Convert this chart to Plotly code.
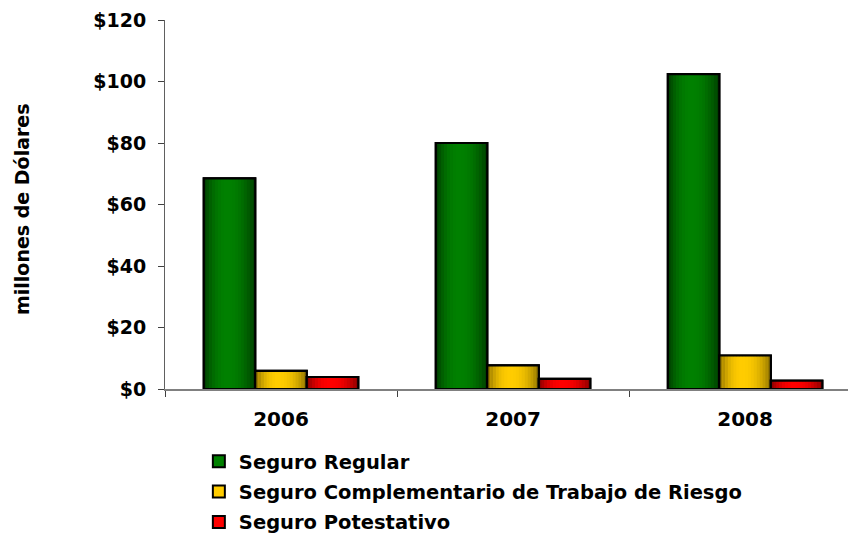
import plotly.graph_objects as go

years = ["2006", "2007", "2008"]
series_names = ["Seguro Regular", "Seguro Complementario de Trabajo de Riesgo", "Seguro Potestativo"]
seguro_regular = [68.5, 80.0, 102.4]
seguro_complementario = [5.9, 7.7, 10.9]
seguro_potestativo = [3.9, 3.3, 2.7]
y_ticks = [0, 20, 40, 60, 80, 100, 120]
y_tick_labels = ["$0", "$20", "$40", "$60", "$80", "$100", "$120"]

all_values = [seguro_regular, seguro_complementario, seguro_potestativo]
# (dark edge colour, bright centre colour)
palettes = [((0, 56, 0), (0, 128, 0)),
            ((140, 112, 0), (255, 204, 0)),
            ((128, 0, 0), (255, 0, 0))]
mid_colors = ["#008000", "#FFCC00", "#FF0000"]

BAR_W = 0.222
offsets = [-1.5 * BAR_W, -0.5 * BAR_W, 0.5 * BAR_W]
N_STRIPES = 18

FONT = "Tahoma, Verdana, DejaVu Sans, sans-serif"
PLOT_H = 369

fig = go.Figure()
for i, (name, vals) in enumerate(zip(series_names, all_values)):
    dark, bright = palettes[i]
    fig.add_trace(go.Bar(
        x=years, y=vals, name=name, width=BAR_W, offset=offsets[i],
        marker=dict(color=mid_colors[i], line=dict(color="black", width=2)),
        legendgroup=name, showlegend=True, hoverinfo="skip"))
    sw = BAR_W / N_STRIPES
    for k in range(N_STRIPES):
        t = (k + 0.5) / N_STRIPES
        c = 0.45
        d = abs(t - c) / (c if t < c else 1 - c)
        f = max(0.0, 1 - d ** 2.2)
        col = tuple(int(round(dark[j] + (bright[j] - dark[j]) * f)) for j in range(3))
        fig.add_trace(go.Bar(
            x=years, y=vals, width=sw * 1.08, offset=offsets[i] + k * sw,
            marker=dict(color="rgb(%d,%d,%d)" % col, line=dict(width=0)),
            legendgroup=name, showlegend=False, hoverinfo="skip"))
    fig.add_trace(go.Bar(
        x=years, y=vals, width=BAR_W, offset=offsets[i],
        marker=dict(color="rgba(0,0,0,0)", line=dict(color="black", width=2.2)),
        legendgroup=name, showlegend=False, hoverinfo="skip"))

fig.update_layout(
    width=848, height=529,
    barmode="overlay",
    paper_bgcolor="white", plot_bgcolor="white",
    margin=dict(l=157, r=0, t=12, b=148, autoexpand=False),
    font=dict(family=FONT, size=19, color="black", weight="bold"),
    xaxis=dict(
        type="category", range=[-0.5, 2.478],
        showline=True, linecolor="#808080", linewidth=2,
        ticks="outside", tickson="boundaries", ticklen=6, tickcolor="#404040",
        ticklabelstandoff=11,
        tickfont=dict(family=FONT, size=20, weight="bold"),
        showgrid=False, zeroline=False),
    yaxis=dict(
        range=[0, 120], tickvals=y_ticks, ticktext=y_tick_labels,
        showline=True, linecolor="#606060", linewidth=1,
        ticks="outside", ticklen=6, tickcolor="#404040",
        ticklabelstandoff=8, ticklabeloverflow="allow",
        tickfont=dict(family=FONT, size=19, weight="bold"),
        showgrid=False, zeroline=False),
    legend=dict(
        orientation="v", x=0.049, xanchor="left", y=-53 / PLOT_H, yanchor="top",
        traceorder="grouped", tracegroupgap=2,
        font=dict(family=FONT, size=19.5, weight="bold"),
        bgcolor="rgba(0,0,0,0)"),
    annotations=[dict(
        text="millones de Dólares", textangle=-90,
        xref="paper", yref="paper", x=(22 - 165) / 691, y=(389 - 209) / PLOT_H,
        xanchor="center", yanchor="middle", showarrow=False,
        font=dict(family=FONT, size=19, weight="bold"))],
)

fig.write_html("out.html")
